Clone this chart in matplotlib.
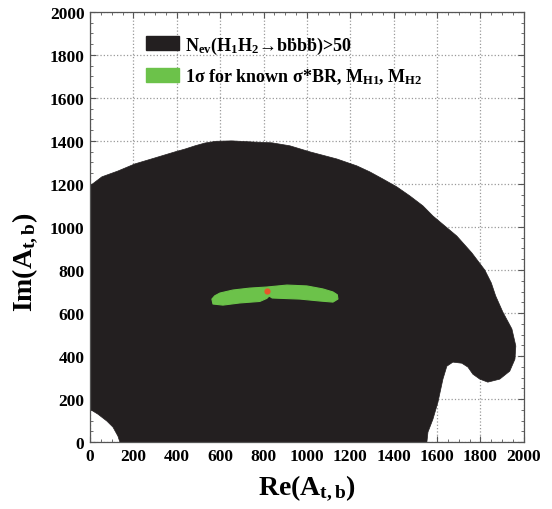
"""
Allowed region in the Re(A_t,b) - Im(A_t,b) plane
"""
import matplotlib
matplotlib.use('Agg')
import matplotlib.pyplot as plt
from matplotlib.patches import Polygon, Patch
from matplotlib.ticker import MultipleLocator

# Boundary of the N_ev > 50 region (traced clockwise)
nev_re = [0, 37, 78, 106, 129, 138, 1553, 1558, 1581, 1604, 1627, 1645, 1673,
          1714, 1742, 1765, 1797, 1834, 1889, 1935, 1959, 1963, 1945, 1903,
          1870, 1850, 1820, 1760, 1691, 1581, 1535, 1475, 1415, 1350, 1290,
          1230, 1138, 1014, 922, 839, 747, 654, 580, 530, 484, 438, 392, 300,
          207, 129, 55, 0]
nev_im = [153, 130, 98, 70, 28, 0, 0, 47, 107, 186, 293, 353, 372,
          367, 349, 316, 293, 279, 293, 330, 386, 447, 526, 605,
          680, 740, 800, 880, 958, 1051, 1098, 1144, 1186, 1223, 1256,
          1284, 1316, 1349, 1377, 1391, 1395, 1400, 1398, 1390, 1377, 1362,
          1349, 1321, 1293, 1260, 1233, 1191]

# 1 sigma region for known sigma*BR, M_H1, M_H2
sig_re = [562, 575, 599, 659, 737, 816, 908, 1000, 1074, 1120, 1140, 1143,
          1120, 1060, 968, 889, 840, 826, 815, 783, 691, 613, 567]
sig_im = [665, 680, 693, 707, 716, 721, 730, 726, 712, 698, 685, 665,
          651, 656, 665, 668, 670, 679, 668, 654, 647, 637, 642]

# best point
best_re = [816]
best_im = [702]

ticks = list(range(0, 2001, 200))

plt.rcParams['font.family'] = ['Liberation Serif', 'DejaVu Serif']
plt.rcParams['font.weight'] = 'bold'
plt.rcParams['axes.labelweight'] = 'bold'
plt.rcParams['mathtext.fontset'] = 'custom'
plt.rcParams['mathtext.rm'] = 'Liberation Serif:bold'
plt.rcParams['mathtext.it'] = 'Liberation Serif:bold'
plt.rcParams['mathtext.bf'] = 'Liberation Serif:bold'

BLACK = '#231f20'
GREEN = '#6cc24a'
RED = '#e8552a'

fig = plt.figure(figsize=(5.52, 5.10), dpi=100)
ax = fig.add_axes([0.163, 0.131, 0.786, 0.844])

ax.add_patch(Polygon(list(zip(nev_re, nev_im)), closed=True,
                     facecolor=BLACK, edgecolor=BLACK, lw=0.5, zorder=2,
                     joinstyle='round'))
ax.add_patch(Polygon(list(zip(sig_re, sig_im)), closed=True,
                     facecolor=GREEN, edgecolor=GREEN, lw=0.8, zorder=3,
                     joinstyle='round'))
ax.plot(best_re, best_im, 'o', color=RED, ms=4.5, mec='none', zorder=4)

ax.set_xlim(0, 2000)
ax.set_ylim(0, 2000)
ax.set_xticks(ticks)
ax.set_yticks(ticks)
ax.xaxis.set_minor_locator(MultipleLocator(50))
ax.yaxis.set_minor_locator(MultipleLocator(50))
ax.tick_params(which='both', direction='in', top=True, right=True,
               color='#555555')
ax.tick_params(which='major', length=4, labelsize=12.5, pad=4)
ax.tick_params(which='minor', length=2.5)
for lab in ax.get_xticklabels() + ax.get_yticklabels():
    lab.set_fontweight('bold')
for sp in ax.spines.values():
    sp.set_color('#555555')
    sp.set_linewidth(0.9)

ax.grid(True, which='major', color='#999999', linestyle=':', linewidth=0.9,
        zorder=0)
ax.set_axisbelow(True)

ax.set_xlabel(r'Re(A$_{\mathrm{t,b}}$)', fontsize=20, fontweight='bold',
              labelpad=6)
ax.set_ylabel(r'Im(A$_{\mathrm{t,b}}$)', fontsize=20, fontweight='bold')
ax.yaxis.set_label_coords(-0.115, 0.42)

handles = [Patch(facecolor=BLACK, edgecolor=BLACK),
           Patch(facecolor=GREEN, edgecolor=GREEN)]
labels = ['N$_{\\mathrm{ev}}$(H$_{\\mathrm{1}}$H$_{\\mathrm{2}}$\u2192b\u1e03b\u1e03)>50',
          '1\u03c3 for known \u03c3*BR, M$_{\\mathrm{H1}}$, M$_{\\mathrm{H2}}$']
ax.legend(handles, labels, loc='upper left', bbox_to_anchor=(0.13, 0.947),
          frameon=False, prop={'size': 13, 'weight': 'bold'},
          handlelength=1.8, handleheight=0.8, handletextpad=0.35,
          labelspacing=0.6, borderpad=0, borderaxespad=0)

plt.savefig('out.png', dpi=100)
plt.close()
